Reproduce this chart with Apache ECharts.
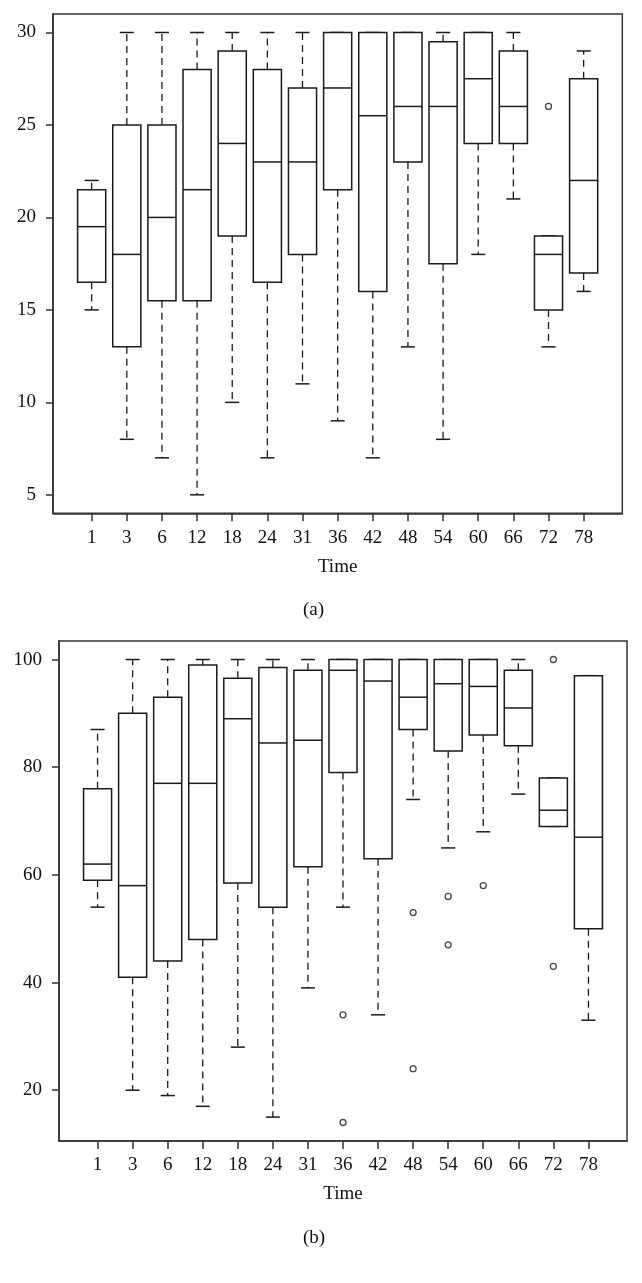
<!DOCTYPE html>
<html>
<head>
<meta charset="utf-8">
<script src="https://cdn.jsdelivr.net/npm/echarts@6/dist/echarts.min.js"></script>
<style>
html,body{margin:0;padding:0;background:#fff;}
#chart{width:642px;height:1283px;}
</style>
</head>
<body>
<div id="chart"></div>
<script>
// ---- Data ----
const timeLabels = ['1','3','6','12','18','24','31','36','42','48','54','60','66','72','78'];

// Panel (a)
const yTicksA = [5, 10, 15, 20, 25, 30];
const lowA    = [15, 8, 7, 5, 10, 7, 11, 9, 7, 13, 8, 18, 21, 13, 16];
const q1A     = [16.5, 13, 15.5, 15.5, 19, 16.5, 18, 21.5, 16, 23, 17.5, 24, 24, 15, 17];
const medA    = [19.5, 18, 20, 21.5, 24, 23, 23, 27, 25.5, 26, 26, 27.5, 26, 18, 22];
const q3A     = [21.5, 25, 25, 28, 29, 28, 27, 30, 30, 30, 29.5, 30, 29, 19, 27.5];
const highA   = [22, 30, 30, 30, 30, 30, 30, 30, 30, 30, 30, 30, 30, 19, 29];
const outTimeA = ['72'];
const outValA  = [26];

// Panel (b)
const yTicksB = [20, 40, 60, 80, 100];
const lowB    = [54, 20, 19, 17, 28, 15, 39, 54, 34, 74, 65, 68, 75, 69, 33];
const q1B     = [59, 41, 44, 48, 58.5, 54, 61.5, 79, 63, 87, 83, 86, 84, 69, 50];
const medB    = [62, 58, 77, 77, 89, 84.5, 85, 98, 96, 93, 95.5, 95, 91, 72, 67];
const q3B     = [76, 90, 93, 99, 96.5, 98.5, 98, 100, 100, 100, 100, 100, 98, 78, 97];
const highB   = [87, 100, 100, 100, 100, 100, 100, 100, 100, 100, 100, 100, 100, 78, 97];
const outTimeB = ['36', '36', '48', '48', '54', '54', '60', '72', '72'];
const outValB  = [34, 14, 53, 24, 56, 47, 58, 100, 43];

// ---- Build ----
const FONT = '"Liberation Serif", "DejaVu Serif", serif';
const INK = '#1a1a1a';
const xPositions = timeLabels.map((_, i) => i + 1);

function boxData(lo, q1, md, q3, hi) {
  return xPositions.map((x, i) => [x, lo[i], q1[i], md[i], q3[i], hi[i]]);
}
function outData(times, vals) {
  return times.map((t, i) => [timeLabels.indexOf(t) + 1, vals[i]]);
}

function renderBox(params, api) {
  const x = api.value(0);
  const lo = api.value(1), q1 = api.value(2), md = api.value(3), q3 = api.value(4), hi = api.value(5);
  const pLo = api.coord([x, lo]);
  const pQ1 = api.coord([x, q1]);
  const pMd = api.coord([x, md]);
  const pQ3 = api.coord([x, q3]);
  const pHi = api.coord([x, hi]);
  const bw = api.size([0.8, 0])[0];
  const cw = api.size([0.4, 0])[0];
  const cx = pMd[0];
  const solid = { stroke: INK, lineWidth: 1.5, fill: null };
  const dashed = { stroke: INK, lineWidth: 1.3, lineDash: [7, 5], fill: null };
  const children = [];
  if (hi > q3) {
    children.push({ type: 'line', shape: { x1: cx, y1: pQ3[1], x2: cx, y2: pHi[1] }, style: dashed });
  }
  if (lo < q1) {
    children.push({ type: 'line', shape: { x1: cx, y1: pQ1[1], x2: cx, y2: pLo[1] }, style: dashed });
  }
  children.push({ type: 'line', shape: { x1: cx - cw / 2, y1: pHi[1], x2: cx + cw / 2, y2: pHi[1] }, style: solid });
  children.push({ type: 'line', shape: { x1: cx - cw / 2, y1: pLo[1], x2: cx + cw / 2, y2: pLo[1] }, style: solid });
  children.push({ type: 'rect', shape: { x: cx - bw / 2, y: pQ3[1], width: bw, height: pQ1[1] - pQ3[1] }, style: { stroke: INK, lineWidth: 1.5, fill: '#fff' } });
  children.push({ type: 'line', shape: { x1: cx - bw / 2, y1: pMd[1], x2: cx + bw / 2, y2: pMd[1] }, style: solid });
  return { type: 'group', children: children };
}

function xAxisCfg(gridIndex) {
  return {
    type: 'value', gridIndex: gridIndex, min: -0.1, max: 16.1,
    name: 'Time', nameLocation: 'middle', nameGap: 44,
    nameTextStyle: { fontFamily: FONT, fontSize: 19, color: '#111' },
    axisLine: { show: true, onZero: false, lineStyle: { color: '#333', width: 1.5 } },
    axisTick: { show: true, length: 8, customValues: xPositions, lineStyle: { color: '#333', width: 1.5 } },
    axisLabel: { customValues: xPositions, margin: 15, fontFamily: FONT, fontSize: 19, color: '#111',
      formatter: v => timeLabels[Math.round(v) - 1] || '' },
    splitLine: { show: false }
  };
}
function yAxisCfg(gridIndex, min, max, ticks) {
  return {
    type: 'value', gridIndex: gridIndex, min: min, max: max,
    axisLine: { show: true, onZero: false, lineStyle: { color: '#333', width: 1.5 } },
    axisTick: { show: true, length: 7, customValues: ticks, lineStyle: { color: '#333', width: 1.5 } },
    axisLabel: { customValues: ticks, margin: 17, fontFamily: FONT, fontSize: 19, color: '#111' },
    splitLine: { show: false }
  };
}

const chart = echarts.init(document.getElementById('chart'), null, { renderer: 'canvas' });
chart.setOption({
  animation: false,
  backgroundColor: '#fff',
  grid: [
    { left: 53, top: 14, width: 569.3, height: 499.3, show: true, borderColor: '#333', borderWidth: 1.5, backgroundColor: 'transparent' },
    { left: 59, top: 641, width: 568, height: 500, show: true, borderColor: '#333', borderWidth: 1.5, backgroundColor: 'transparent' }
  ],
  xAxis: [xAxisCfg(0), xAxisCfg(1)],
  yAxis: [yAxisCfg(0, 4, 31, yTicksA), yAxisCfg(1, 10.56, 103.44, yTicksB)],
  series: [
    { type: 'custom', xAxisIndex: 0, yAxisIndex: 0, renderItem: renderBox,
      data: boxData(lowA, q1A, medA, q3A, highA), encode: { x: 0, y: [1, 2, 3, 4, 5] } },
    { type: 'scatter', xAxisIndex: 0, yAxisIndex: 0, symbol: 'circle', symbolSize: 6,
      itemStyle: { color: '#fff', borderColor: INK, borderWidth: 1.3 }, data: outData(outTimeA, outValA) },
    { type: 'custom', xAxisIndex: 1, yAxisIndex: 1, renderItem: renderBox,
      data: boxData(lowB, q1B, medB, q3B, highB), encode: { x: 0, y: [1, 2, 3, 4, 5] } },
    { type: 'scatter', xAxisIndex: 1, yAxisIndex: 1, symbol: 'circle', symbolSize: 6,
      itemStyle: { color: '#fff', borderColor: INK, borderWidth: 1.3 }, data: outData(outTimeB, outValB) }
  ],
  graphic: [
    { type: 'text', left: 303, top: 601, style: { text: '(a)', font: '19px ' + FONT, fill: '#111' } },
    { type: 'text', left: 303, top: 1229, style: { text: '(b)', font: '19px ' + FONT, fill: '#111' } }
  ]
});
</script>
</body>
</html>
